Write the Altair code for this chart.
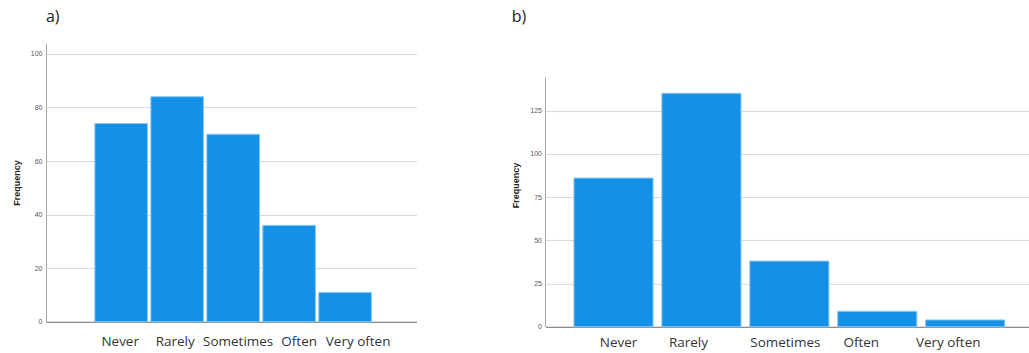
import altair as alt
import pandas as pd

categories = ["Never", "Rarely", "Sometimes", "Often", "Very often"]
freq_a = [74, 84, 70, 36, 11]
freq_b = [86, 135, 38, 9, 4]

# horizontal nudge of each category label, in pixels
label_shift_a = [-1, -2, 5, 10, 13]
label_shift_b = [5, -13, -4, -16, -17]

BAR_FILL = "#1490e6"
BAR_EDGE = "#8cc8f2"
AXIS_GREY = "#a6a6a6"


def label_offsets(shifts):
    return {
        "condition": [
            {"test": f"datum.value === '{c}'", "value": s}
            for c, s in zip(categories, shifts)
        ],
        "value": 0,
    }


def bars(values, y_max, y_ticks, pad_inner, pad_outer, band_align, shifts,
         label_pad, show_domain):
    df = pd.DataFrame({"category": categories, "frequency": values})
    return (
        alt.Chart(df)
        .mark_bar(fill=BAR_FILL, stroke=BAR_EDGE, strokeWidth=1)
        .encode(
            x=alt.X(
                "category:N",
                sort=categories,
                title=None,
                scale=alt.Scale(
                    paddingInner=pad_inner, paddingOuter=pad_outer, align=band_align
                ),
                axis=alt.Axis(
                    labelAngle=0,
                    labelFont="Open Sans",
                    labelFontSize=13.5,
                    labelColor="#333333",
                    labelPadding=label_pad,
                    labelOffset=label_offsets(shifts),
                    ticks=False,
                    domainColor="#8c8c8c",
                    domainWidth=1.2,
                    grid=False,
                ),
            ),
            y=alt.Y(
                "frequency:Q",
                title="Frequency",
                scale=alt.Scale(domain=[0, y_max], nice=False),
                axis=alt.Axis(
                    values=y_ticks,
                    labelFont="Liberation Sans",
                    labelFontSize=7,
                    labelColor="#555555",
                    labelPadding=4,
                    ticks=False,
                    domain=show_domain,
                    domainColor=AXIS_GREY,
                    gridColor="#d9d9d9",
                    gridWidth=1,
                    titleFont="Liberation Sans",
                    titleFontSize=9,
                    titleFontWeight="bold",
                    titleColor="#222222",
                    titlePadding=9,
                ),
            ),
        )
    )


def panel_title(label, frame):
    return alt.TitleParams(
        label,
        anchor="start",
        frame=frame,
        font="Open Sans",
        fontSize=16,
        fontWeight="normal",
        color="#222222",
        offset=18,
    )


# Panel a: y axis runs the full plot height
chart_a = bars(
    freq_a, 104, [0, 20, 40, 60, 80, 100], 0.06, 0.84, 0.52, label_shift_a, 13, True
).properties(width=371, height=279, title=panel_title("a)", "group"))

# Panel b: the scale leaves headroom above the axis line, which stops at 144
b_axis_top = 144
b_bars = bars(
    freq_b, 164, [0, 25, 50, 75, 100, 125], 0.1, 0.3, 0.54, label_shift_b, 9, False
)
b_axis_line = (
    alt.Chart(pd.DataFrame({"lo": [0], "hi": [b_axis_top]}))
    .mark_rule(color=AXIS_GREY, strokeWidth=1)
    .encode(x=alt.value(0), y=alt.Y("lo:Q"), y2="hi:Q")
)
chart_b = alt.layer(b_bars, b_axis_line).properties(
    width=484, height=284, title=panel_title("b)", "bounds")
)

chart = (
    alt.hconcat(chart_a, chart_b, spacing=95)
    .properties(padding={"left": 12, "top": 9, "right": 0, "bottom": 0})
    .configure(background="white")
    .configure_view(stroke=None)
)

chart.save("out.html", embed_options={"renderer": "svg", "actions": False})
